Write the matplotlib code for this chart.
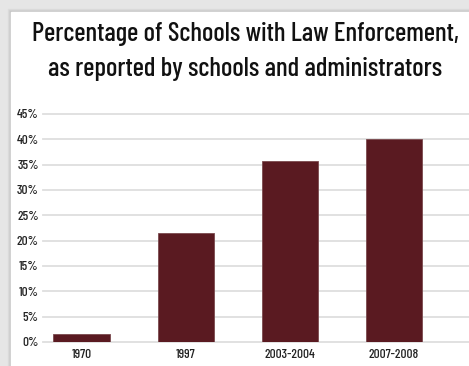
import matplotlib
matplotlib.use('Agg')
import matplotlib.pyplot as plt
from matplotlib import font_manager
from matplotlib.patches import Rectangle

years = ['1970', '1997', '2003-2004', '2007-2008']
percent = [1.5, 21.5, 35.7, 40.0]
yticks = [0, 5, 10, 15, 20, 25, 30, 35, 40, 45]
title1 = 'Percentage of Schools with Law Enforcement,'
title2 = 'as reported by schools and administrators'

names = set(f.name for f in font_manager.fontManager.ttflist)
fam = 'DejaVu Sans'
for cand in ['Barlow Condensed', 'Roboto Condensed', 'Archivo Narrow']:
    if cand in names:
        fam = cand
        break
plt.rcParams['font.family'] = [fam, 'DejaVu Sans']
plt.rcParams['font.weight'] = 500

W, H = 469, 366
fig = plt.figure(figsize=(W / 100, H / 100), dpi=100, facecolor='#e6e6e6')

# soft shadow + white card behind everything
for i, c in enumerate(['#dcdcdc', '#d2d2d2', '#c8c8c8']):
    fig.patches.append(Rectangle(((8 + i) / W, 0), 1, (H - 9 - i) / H,
                                 transform=fig.transFigure, color=c, zorder=-5))
fig.patches.append(Rectangle((11 / W, 0), 1, (H - 12) / H,
                             transform=fig.transFigure, color='white', zorder=-4))

fig.text(245 / W, 1 - 34 / H, title1, ha='center', va='center',
         fontsize=19.3, color='#111111')
fig.text(245 / W, 1 - 69 / H, title2, ha='center', va='center',
         fontsize=19.3, color='#111111')

ax = fig.add_axes([43 / W, (H - 342) / H, (W - 43) / W, (342 - 114) / H])
ax.set_facecolor('none')
ax.bar(range(len(years)), percent, width=0.54, color='#5a1a21',
       edgecolor='#7a4a4e', linewidth=0.6, zorder=3)
ax.set_xlim(-0.37, 3.72)
ax.set_ylim(0, 45)
ax.set_yticks(yticks)
ax.set_yticklabels(['%d%%' % v for v in yticks], fontsize=9.5, color='#222222')
ax.set_xticks(range(len(years)))
ax.set_xticklabels(years, fontsize=9.5, color='#222222')
ax.tick_params(axis='both', length=0)
ax.tick_params(axis='y', pad=3)
ax.tick_params(axis='x', pad=5)
for s in ax.spines.values():
    s.set_visible(False)
for v in yticks:
    ax.axhline(v, color='#dedede', linewidth=1.3, zorder=1, clip_on=False)

fig.savefig('out.png', dpi=100, facecolor=fig.get_facecolor())
